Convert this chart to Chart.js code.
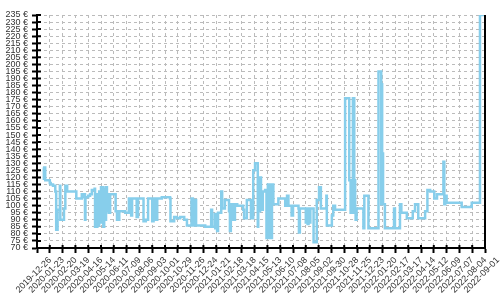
<!DOCTYPE html>
<html>
<head>
<meta charset="utf-8">
<script src="https://cdn.jsdelivr.net/npm/chart.js@4/dist/chart.umd.min.js"></script>
<style>
  html, body { margin: 0; padding: 0; background: #fff; }
  #wrap { width: 500px; height: 300px; }
</style>
</head>
<body>
<div id="wrap"><canvas id="priceChart"></canvas></div>
<script>
// days counted from 2019-12-26
const startDate = Date.UTC(2019, 11, 26);
const dayOffsets = [
  13, 15, 16, 18, 28, 30, 35, 40, 42, 45, 50, 51, 59, 62, 66, 86, 98, 101, 103, 105,
  106, 112, 116, 120, 126, 127, 129, 130, 132, 134, 136, 138, 140, 141, 143, 145, 147, 149, 151, 153,
  155, 157, 160, 172, 175, 180, 193, 201, 206, 208, 218, 221, 233, 238, 243, 252, 255, 260, 263, 273,
  291, 292, 300, 306, 313, 322, 328, 338, 341, 343, 348, 368, 381, 383, 389, 390, 392, 394, 396, 403,
  405, 411, 420, 422, 424, 429, 433, 438, 451, 453, 459, 468, 473, 477, 483, 484, 486, 488, 490, 492,
  494, 499, 502, 505, 509, 514, 517, 528, 543, 547, 550, 557, 560, 572, 573, 575, 586, 588, 590, 592,
  594, 596, 598, 605, 612, 617, 621, 633, 634, 645, 648, 652, 674, 683, 686, 691, 694, 696, 697, 699,
  714, 716, 725, 747, 753, 754, 755, 757, 761, 781, 783, 794, 797, 803, 809, 822, 827, 834, 849, 854,
  860, 869, 875, 889, 891, 893, 896, 929, 951, 969, 980
];
const prices = [
  127, 119, 127, 118, 116, 115, 114, 110, 83, 97, 114, 90, 98, 114, 110, 105, 108, 106, 108, 90,
  106, 107, 108, 111, 112, 85, 100, 85, 108, 86, 110, 88, 113, 92, 113, 85, 112, 90, 113, 96,
  108, 95, 108, 96, 90, 96, 95, 105, 93, 105, 92, 105, 89, 90, 105, 89, 105, 90, 105, 106,
  105, 89, 92, 91, 92, 90, 86, 105, 86, 104, 86, 85, 97, 85, 94, 84, 94, 82, 95, 110,
  98, 104, 96, 82, 101, 90, 101, 100, 97, 91, 104, 91, 125, 130, 85, 118, 96, 120, 110, 97,
  110, 111, 77, 115, 77, 115, 101, 105, 100, 107, 100, 93, 100, 98, 81, 98, 98, 88, 98, 87,
  98, 88, 98, 74, 104, 113, 98, 107, 86, 93, 100, 97, 176, 118, 95, 176, 118, 95, 90, 98,
  84, 107, 84, 195, 101, 186, 137, 101, 84, 98, 84, 101, 95, 95, 91, 96, 101, 91, 96, 111,
  110, 105, 108, 131, 101, 107, 102, 99, 102, 235, 235
];
const tickStep = 28;
const lastDay = 980;
const yMin = 70;
const yMax = 235;

function dayLabel(d) {
  return new Date(startDate + d * 86400000).toISOString().slice(0, 10);
}

// matplotlib-like ticks crossing into the plot, plus the right frame line
const innerTicks = {
  id: 'innerTicks',
  afterDraw(chart) {
    const { ctx, chartArea } = chart;
    const xs = chart.scales.x, ys = chart.scales.y;
    ctx.save();
    ctx.strokeStyle = '#000';
    ctx.lineWidth = 2;
    ctx.beginPath();
    xs.ticks.forEach((t, i) => {
      const px = xs.getPixelForTick(i);
      ctx.moveTo(px, chartArea.bottom);
      ctx.lineTo(px, chartArea.bottom - 3);
    });
    ys.ticks.forEach((t, i) => {
      const py = ys.getPixelForTick(i);
      ctx.moveTo(chartArea.left, py);
      ctx.lineTo(chartArea.left + 4, py);
    });
    ctx.moveTo(chartArea.right, chartArea.top);
    ctx.lineTo(chartArea.right, chartArea.bottom);
    ctx.stroke();
    ctx.restore();
  }
};

Chart.defaults.font.family = 'Liberation Sans';
Chart.defaults.font.size = 9;
Chart.defaults.color = '#333';

new Chart(document.getElementById('priceChart'), {
  type: 'line',
  data: {
    datasets: [{
      data: dayOffsets.map((d, i) => ({ x: d, y: prices[i] })),
      borderColor: '#87CEEB',
      borderWidth: 2.5,
      stepped: true,
      pointRadius: 0,
      fill: false
    }]
  },
  options: {
    responsive: true,
    maintainAspectRatio: false,
    animation: false,
    layout: { padding: { top: 15, right: 15, left: 0, bottom: 0 } },
    plugins: { legend: { display: false }, tooltip: { enabled: false } },
    scales: {
      x: {
        type: 'linear',
        min: 0,
        max: lastDay,
        afterFit(scale) { scale.height = 52; },
        ticks: {
          stepSize: tickStep,
          autoSkip: false,
          maxRotation: 45,
          minRotation: 45,
          labelOffset: 13,
          padding: 2,
          callback: (v) => dayLabel(v)
        },
        grid: { color: '#bbb', lineWidth: 1, tickColor: '#000', tickWidth: 2, tickLength: 5 },
        border: { color: '#000', width: 2, dash: [3, 3] }
      },
      y: {
        min: yMin,
        max: yMax,
        afterFit(scale) { scale.width = 37; },
        ticks: {
          stepSize: 5,
          autoSkip: false,
          padding: 4,
          callback: (v) => v + ' €'
        },
        grid: { color: '#bbb', lineWidth: 1, tickColor: '#000', tickWidth: 2, tickLength: 5 },
        border: { color: '#000', width: 2, dash: [3, 3] }
      }
    }
  },
  plugins: [innerTicks]
});
</script>
</body>
</html>
